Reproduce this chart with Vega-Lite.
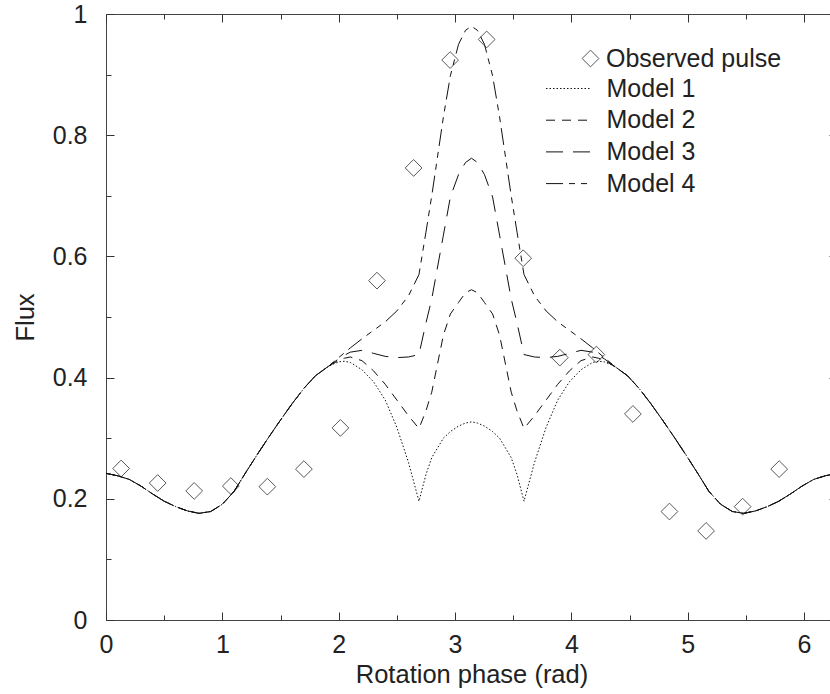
{
  "$schema": "https://vega.github.io/schema/vega-lite/v6.json",
  "width": 731,
  "height": 606,
  "autosize": {"type": "none"},
  "padding": {"left": 106, "top": 14, "right": 0, "bottom": 74},
  "background": "white",
  "config": {
    "font": "Liberation Sans",
    "view": {"stroke": "#444", "strokeWidth": 1},
    "axis": {
      "domain": false,
      "grid": false,
      "tickColor": "#333",
      "tickWidth": 1,
      "labelFont": "Liberation Sans",
      "labelFontSize": 25,
      "labelColor": "#222",
      "titleFont": "Liberation Sans",
      "titleFontSize": 25.5,
      "titleFontWeight": "normal",
      "titleColor": "#222"
    },
    "legend": {
      "labelFont": "Liberation Sans",
      "labelFontSize": 25,
      "labelColor": "#222",
      "labelLimit": 0,
      "padding": 0
    }
  },
  "datasets": {
    "models": [
      {"phase": 0.00, "m1": 0.242, "m2": 0.242, "m3": 0.242, "m4": 0.242},
      {"phase": 0.10, "m1": 0.238, "m2": 0.238, "m3": 0.238, "m4": 0.238},
      {"phase": 0.20, "m1": 0.232, "m2": 0.232, "m3": 0.232, "m4": 0.232},
      {"phase": 0.30, "m1": 0.221, "m2": 0.221, "m3": 0.221, "m4": 0.221},
      {"phase": 0.40, "m1": 0.208, "m2": 0.208, "m3": 0.208, "m4": 0.208},
      {"phase": 0.50, "m1": 0.196, "m2": 0.196, "m3": 0.196, "m4": 0.196},
      {"phase": 0.60, "m1": 0.187, "m2": 0.187, "m3": 0.187, "m4": 0.187},
      {"phase": 0.70, "m1": 0.180, "m2": 0.180, "m3": 0.180, "m4": 0.180},
      {"phase": 0.80, "m1": 0.176, "m2": 0.176, "m3": 0.176, "m4": 0.176},
      {"phase": 0.90, "m1": 0.179, "m2": 0.179, "m3": 0.179, "m4": 0.179},
      {"phase": 1.00, "m1": 0.191, "m2": 0.191, "m3": 0.191, "m4": 0.191},
      {"phase": 1.10, "m1": 0.212, "m2": 0.212, "m3": 0.212, "m4": 0.212},
      {"phase": 1.20, "m1": 0.243, "m2": 0.243, "m3": 0.243, "m4": 0.243},
      {"phase": 1.30, "m1": 0.273, "m2": 0.273, "m3": 0.273, "m4": 0.273},
      {"phase": 1.40, "m1": 0.302, "m2": 0.302, "m3": 0.302, "m4": 0.302},
      {"phase": 1.50, "m1": 0.330, "m2": 0.330, "m3": 0.330, "m4": 0.330},
      {"phase": 1.60, "m1": 0.357, "m2": 0.357, "m3": 0.357, "m4": 0.357},
      {"phase": 1.70, "m1": 0.382, "m2": 0.382, "m3": 0.382, "m4": 0.382},
      {"phase": 1.80, "m1": 0.403, "m2": 0.403, "m3": 0.403, "m4": 0.403},
      {"phase": 1.90, "m1": 0.417, "m2": 0.417, "m3": 0.417, "m4": 0.417},
      {"phase": 1.95, "m1": 0.422, "m2": 0.423, "m3": 0.424, "m4": 0.425},
      {"phase": 2.00, "m1": 0.426, "m2": 0.428, "m3": 0.431, "m4": 0.433},
      {"phase": 2.05, "m1": 0.427, "m2": 0.432, "m3": 0.437, "m4": 0.441},
      {"phase": 2.10, "m1": 0.425, "m2": 0.434, "m3": 0.442, "m4": 0.449},
      {"phase": 2.20, "m1": 0.413, "m2": 0.428, "m3": 0.445, "m4": 0.464},
      {"phase": 2.30, "m1": 0.393, "m2": 0.411, "m3": 0.440, "m4": 0.478},
      {"phase": 2.40, "m1": 0.363, "m2": 0.389, "m3": 0.435, "m4": 0.492},
      {"phase": 2.50, "m1": 0.318, "m2": 0.363, "m3": 0.433, "m4": 0.510},
      {"phase": 2.60, "m1": 0.260, "m2": 0.337, "m3": 0.434, "m4": 0.535},
      {"phase": 2.69, "m1": 0.196, "m2": 0.316, "m3": 0.438, "m4": 0.570},
      {"phase": 2.75, "m1": 0.240, "m2": 0.345, "m3": 0.490, "m4": 0.640},
      {"phase": 2.80, "m1": 0.268, "m2": 0.376, "m3": 0.530, "m4": 0.700},
      {"phase": 2.90, "m1": 0.300, "m2": 0.470, "m3": 0.635, "m4": 0.830},
      {"phase": 2.96, "m1": 0.311, "m2": 0.505, "m3": 0.698, "m4": 0.898},
      {"phase": 3.03, "m1": 0.320, "m2": 0.524, "m3": 0.735, "m4": 0.950},
      {"phase": 3.09, "m1": 0.325, "m2": 0.540, "m3": 0.755, "m4": 0.973},
      {"phase": 3.1416, "m1": 0.327, "m2": 0.545, "m3": 0.762, "m4": 0.980},
      {"phase": 3.193, "m1": 0.325, "m2": 0.540, "m3": 0.755, "m4": 0.973},
      {"phase": 3.253, "m1": 0.320, "m2": 0.524, "m3": 0.735, "m4": 0.950},
      {"phase": 3.323, "m1": 0.311, "m2": 0.505, "m3": 0.698, "m4": 0.898},
      {"phase": 3.383, "m1": 0.300, "m2": 0.470, "m3": 0.635, "m4": 0.830},
      {"phase": 3.483, "m1": 0.268, "m2": 0.376, "m3": 0.530, "m4": 0.700},
      {"phase": 3.533, "m1": 0.240, "m2": 0.345, "m3": 0.490, "m4": 0.640},
      {"phase": 3.593, "m1": 0.196, "m2": 0.316, "m3": 0.438, "m4": 0.570},
      {"phase": 3.683, "m1": 0.260, "m2": 0.337, "m3": 0.434, "m4": 0.535},
      {"phase": 3.783, "m1": 0.318, "m2": 0.363, "m3": 0.433, "m4": 0.510},
      {"phase": 3.883, "m1": 0.363, "m2": 0.389, "m3": 0.435, "m4": 0.492},
      {"phase": 3.983, "m1": 0.393, "m2": 0.411, "m3": 0.440, "m4": 0.478},
      {"phase": 4.083, "m1": 0.413, "m2": 0.428, "m3": 0.445, "m4": 0.464},
      {"phase": 4.183, "m1": 0.425, "m2": 0.434, "m3": 0.442, "m4": 0.449},
      {"phase": 4.233, "m1": 0.427, "m2": 0.432, "m3": 0.437, "m4": 0.441},
      {"phase": 4.283, "m1": 0.426, "m2": 0.428, "m3": 0.431, "m4": 0.433},
      {"phase": 4.333, "m1": 0.422, "m2": 0.423, "m3": 0.424, "m4": 0.425},
      {"phase": 4.383, "m1": 0.417, "m2": 0.417, "m3": 0.417, "m4": 0.417},
      {"phase": 4.483, "m1": 0.403, "m2": 0.403, "m3": 0.403, "m4": 0.403},
      {"phase": 4.583, "m1": 0.382, "m2": 0.382, "m3": 0.382, "m4": 0.382},
      {"phase": 4.683, "m1": 0.357, "m2": 0.357, "m3": 0.357, "m4": 0.357},
      {"phase": 4.783, "m1": 0.330, "m2": 0.330, "m3": 0.330, "m4": 0.330},
      {"phase": 4.883, "m1": 0.302, "m2": 0.302, "m3": 0.302, "m4": 0.302},
      {"phase": 4.983, "m1": 0.273, "m2": 0.273, "m3": 0.273, "m4": 0.273},
      {"phase": 5.083, "m1": 0.243, "m2": 0.243, "m3": 0.243, "m4": 0.243},
      {"phase": 5.183, "m1": 0.212, "m2": 0.212, "m3": 0.212, "m4": 0.212},
      {"phase": 5.283, "m1": 0.191, "m2": 0.191, "m3": 0.191, "m4": 0.191},
      {"phase": 5.383, "m1": 0.179, "m2": 0.179, "m3": 0.179, "m4": 0.179},
      {"phase": 5.483, "m1": 0.176, "m2": 0.176, "m3": 0.176, "m4": 0.176},
      {"phase": 5.583, "m1": 0.180, "m2": 0.180, "m3": 0.180, "m4": 0.180},
      {"phase": 5.683, "m1": 0.187, "m2": 0.187, "m3": 0.187, "m4": 0.187},
      {"phase": 5.783, "m1": 0.196, "m2": 0.196, "m3": 0.196, "m4": 0.196},
      {"phase": 5.883, "m1": 0.208, "m2": 0.208, "m3": 0.208, "m4": 0.208},
      {"phase": 5.983, "m1": 0.221, "m2": 0.221, "m3": 0.221, "m4": 0.221},
      {"phase": 6.083, "m1": 0.232, "m2": 0.232, "m3": 0.232, "m4": 0.232},
      {"phase": 6.183, "m1": 0.238, "m2": 0.238, "m3": 0.238, "m4": 0.238},
      {"phase": 6.283, "m1": 0.242, "m2": 0.242, "m3": 0.242, "m4": 0.242}
    ],
    "observed": [
      {"phase": 0.130, "flux": 0.250},
      {"phase": 0.444, "flux": 0.226},
      {"phase": 0.758, "flux": 0.213},
      {"phase": 1.073, "flux": 0.221},
      {"phase": 1.387, "flux": 0.220},
      {"phase": 1.701, "flux": 0.249},
      {"phase": 2.015, "flux": 0.317},
      {"phase": 2.329, "flux": 0.560},
      {"phase": 2.644, "flux": 0.746},
      {"phase": 2.958, "flux": 0.924},
      {"phase": 3.272, "flux": 0.958},
      {"phase": 3.586, "flux": 0.597},
      {"phase": 3.901, "flux": 0.433},
      {"phase": 4.215, "flux": 0.438},
      {"phase": 4.529, "flux": 0.340},
      {"phase": 4.843, "flux": 0.179},
      {"phase": 5.158, "flux": 0.147},
      {"phase": 5.472, "flux": 0.187},
      {"phase": 5.786, "flux": 0.249}
    ]
  },
  "layer": [
    {
      "data": {"name": "models"},
      "transform": [{"fold": ["m1", "m2", "m3", "m4"], "as": ["model", "flux"]}],
      "mark": {"type": "line", "color": "#111", "strokeWidth": 1, "clip": true},
      "encoding": {
        "x": {
          "field": "phase", "type": "quantitative",
          "scale": {"domain": [0, 6.2832], "nice": false, "zero": false},
          "axis": {"orient": "bottom", "values": [0, 1, 2, 3, 4, 5, 6], "format": "~g", "tickSize": -8, "labelPadding": 20, "labelFlush": false, "labelOverlap": false, "title": "Rotation phase (rad)", "titleY": 62, "titleBaseline": "alphabetic"}
        },
        "y": {
          "field": "flux", "type": "quantitative",
          "scale": {"domain": [0, 1], "nice": false},
          "axis": {"orient": "left", "values": [0, 0.2, 0.4, 0.6, 0.8, 1], "format": "~g", "tickSize": -8, "labelPadding": 27, "labelFlush": false, "labelOverlap": false, "title": "Flux", "titleX": -73, "titleY": 303, "titleAngle": -90, "titleBaseline": "alphabetic", "titleAlign": "center"}
        },
        "strokeDash": {
          "field": "model", "type": "nominal",
          "scale": {"domain": ["m1", "m2", "m3", "m4"], "range": [[1.5, 2], [9, 7], [17, 10], [17, 6, 6, 6, 6, 6]]},
          "legend": {"orient": "none", "legendX": 449.5, "legendY": 62, "title": null, "symbolType": "M-2,0H2", "symbolSize": 484, "symbolStrokeWidth": 1, "symbolStrokeColor": "#111", "labelOffset": 26, "rowPadding": 5.7, "padding": 0, "labelExpr": "replace(datum.label, 'm', 'Model ')"}
        }
      }
    },
    {
      "data": {"name": "observed"},
      "mark": {"type": "point", "filled": false, "color": "#111", "strokeWidth": 1, "size": 280},
      "encoding": {
        "x": {"field": "phase", "type": "quantitative", "axis": {"orient": "top", "values": [0, 1, 2, 3, 4, 5, 6], "tickSize": -8, "labels": false, "title": null}},
        "y": {"field": "flux", "type": "quantitative", "axis": {"orient": "right", "values": [0, 0.2, 0.4, 0.6, 0.8, 1], "tickSize": -8, "labels": false, "title": null}},
        "shape": {
          "datum": "Observed pulse",
          "scale": {"range": ["diamond"]},
          "legend": {"orient": "none", "legendX": 472, "legendY": 32, "title": null, "symbolSize": 280, "symbolStrokeColor": "#111", "symbolFillColor": "transparent", "symbolStrokeWidth": 1, "labelOffset": 3, "padding": 0}
        }
      }
    },
    {
      "data": {"name": "observed"},
      "mark": {"type": "point", "opacity": 0},
      "encoding": {
        "x": {"field": "phase", "type": "quantitative", "axis": {"orient": "bottom", "values": [0.5, 1.5, 2.5, 3.5, 4.5, 5.5], "tickSize": -5, "labels": false, "title": null}},
        "y": {"field": "flux", "type": "quantitative", "axis": {"orient": "left", "values": [0.1, 0.3, 0.5, 0.7, 0.9], "tickSize": -5, "labels": false, "title": null}}
      }
    },
    {
      "data": {"name": "observed"},
      "mark": {"type": "point", "opacity": 0},
      "encoding": {
        "x": {"field": "phase", "type": "quantitative", "axis": {"orient": "top", "values": [0.5, 1.5, 2.5, 3.5, 4.5, 5.5], "tickSize": -5, "labels": false, "title": null}},
        "y": {"field": "flux", "type": "quantitative", "axis": {"orient": "right", "values": [0.1, 0.3, 0.5, 0.7, 0.9], "tickSize": -5, "labels": false, "title": null}}
      }
    }
  ],
  "resolve": {"axis": {"x": "independent", "y": "independent"}}
}
